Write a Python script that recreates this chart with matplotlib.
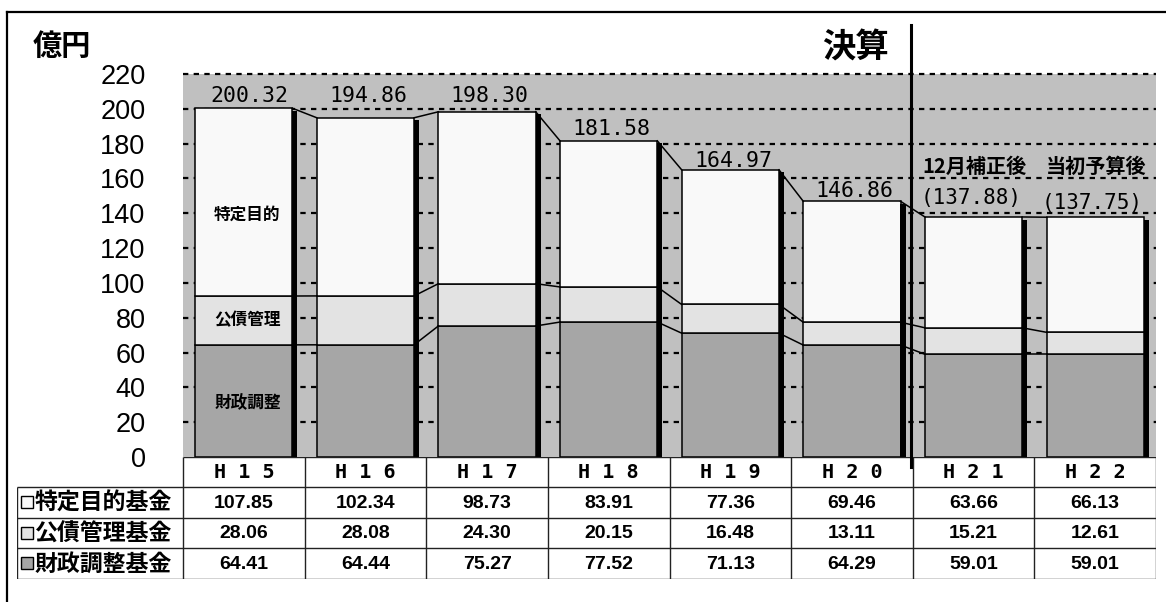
import matplotlib
matplotlib.use("Agg")
import matplotlib.pyplot as plt
from matplotlib.patches import Rectangle
from matplotlib.lines import Line2D
import numpy as np

# データ (億円)
years = ["H 1 5", "H 1 6", "H 1 7", "H 1 8", "H 1 9", "H 2 0", "H 2 1", "H 2 2"]
tokutei = [107.85, 102.34, 98.73, 83.91, 77.36, 69.46, 63.66, 66.13]
kosai = [28.06, 28.08, 24.30, 20.15, 16.48, 13.11, 15.21, 12.61]
zaisei = [64.41, 64.44, 75.27, 77.52, 71.13, 64.29, 59.01, 59.01]
totals = [200.32, 194.86, 198.30, 181.58, 164.97, 146.86, 137.88, 137.75]
budget_notes = ["12月補正後", "当初予算後"]
row_names = ["特定目的基金", "公債管理基金", "財政調整基金"]
yticks = list(range(0, 221, 20))

# ラベルの縦ずらし (pt)
label_lift = [4.3, 11.3, 7.0, 4.3, 2.0, 3.1, 9.0, 6.0]

c_top = "#f9f9f9"
c_mid = "#e3e3e3"
c_bot = "#a6a6a6"
c_bg = "#c0c0c0"

JP = "Noto Sans CJK JP"
MONO = "DejaVu Sans Mono"
SANS = "Liberation Sans"

W, H = 1166, 602
fig = plt.figure(figsize=(W / 100, H / 100), dpi=100)


def fx(px):
    return px / W


def fy(py):
    return 1 - py / H


# 外枠
fig.add_artist(Line2D([fx(7), fx(7)], [fy(12), 0], color="k", lw=1.6))
fig.add_artist(Line2D([fx(7), 1], [fy(12), fy(12)], color="k", lw=1.6))

ax_l, ax_r, ax_t, ax_b = 183, 1156, 74, 457
ax = fig.add_axes([fx(ax_l), fy(ax_b), fx(ax_r - ax_l), (ax_b - ax_t) / H])
ax.set_facecolor(c_bg)
ax.set_xlim(-0.5, 7.5)
ax.set_ylim(0, 220)
for s in ax.spines.values():
    s.set_visible(False)

x = np.arange(len(years))
bw = 0.8

# グリッド
ax.hlines(yticks[1:], -0.5, 7.5, colors="k", lw=1.6,
          linestyles=(0, (2.4, 2.4)), zorder=1, clip_on=False)

cum1 = np.array(zaisei)
cum2 = cum1 + np.array(kosai)
cum3 = cum2 + np.array(tokutei)

ax.bar(x, zaisei, bw, color=c_bot, edgecolor="k", lw=1.1, zorder=2)
ax.bar(x, kosai, bw, bottom=cum1, color=c_mid, edgecolor="k", lw=1.1, zorder=2)
ax.bar(x, tokutei, bw, bottom=cum2, color=c_top, edgecolor="k", lw=1.1, zorder=2)
# 影
ax.bar(x + bw / 2 + 0.02, np.array(totals) - 1.5, 0.042, color="k", lw=0, zorder=2)

# 系列線
for lvl in (cum1, cum2, cum3):
    for i in range(len(x) - 1):
        ax.plot([x[i] + bw / 2, x[i + 1] - bw / 2], [lvl[i], lvl[i + 1]],
                color="k", lw=1.1, zorder=3)

for i in range(6):
    ax.annotate(f"{totals[i]:.2f}", (x[i], totals[i]), xytext=(2 if i else 4, label_lift[i]),
                textcoords="offset points", ha="center", va="baseline",
                fontsize=15.5, family=MONO, zorder=4)

for k, i in enumerate([6, 7]):
    ax.annotate(f"({totals[i]:.2f})", (x[i], totals[i]), xytext=(-2, label_lift[i]),
                textcoords="offset points", ha="center", va="baseline",
                fontsize=15, family=MONO, zorder=4)
    ax.annotate(budget_notes[k], (x[i], totals[i]), xytext=(1, 32),
                textcoords="offset points", ha="center", va="baseline",
                fontsize=14.5, family=JP, weight="bold", zorder=4)

# 棒内ラベル
ax.text(x[0] + 0.03, 139, "特定目的", ha="center", va="center", fontsize=12,
        family=JP, weight="bold", zorder=4)
ax.text(x[0] + 0.03, 78.5, "公債管理", ha="center", va="center", fontsize=12,
        family=JP, weight="bold", zorder=4)
ax.text(x[0] + 0.03, 31, "財政調整", ha="center", va="center", fontsize=12,
        family=JP, weight="bold", zorder=4)

ax.set_xticks([])
ax.set_yticks(yticks)
ax.tick_params(axis="y", length=0, pad=27, labelsize=19.5)
for lab in ax.get_yticklabels():
    lab.set_family(SANS)

# 決算 区切り線
fig.add_artist(Line2D([fx(911), fx(911)], [fy(25), fy(467)], color="k", lw=2.2, zorder=5))
fig.text(fx(855), fy(48), "決算", ha="center", va="center", fontsize=24,
         family=JP, weight="bold")
fig.text(fx(62), fy(46), "億円", ha="center", va="center", fontsize=21,
         family=JP, weight="bold")

# データ表
tl, tr = 17, 1156
rows_y = [457, 487, 518, 548, 579]
tax = fig.add_axes([fx(tl), fy(rows_y[-1]), fx(tr - tl), (rows_y[-1] - rows_y[0]) / H])
tax.set_xlim(tl, tr)
tax.set_ylim(rows_y[-1], rows_y[0])
tax.axis("off")

colw = (ax_r - ax_l) / len(years)
col_x = [ax_l + i * colw for i in range(len(years) + 1)]
lc = "#222222"
tax.hlines(rows_y[0], ax_l, tr, colors=lc, lw=1.0)
tax.hlines(rows_y[1:], tl, tr, colors=lc, lw=1.0)
tax.vlines(tl, rows_y[1], rows_y[-1], colors=lc, lw=1.0)
tax.vlines(col_x, rows_y[0], rows_y[-1], colors=lc, lw=1.0)

for i, yr in enumerate(years):
    cx = col_x[i] + colw / 2
    tax.text(cx, (rows_y[0] + rows_y[1]) / 2 + 1, yr, ha="center", va="center",
             fontsize=14.5, family=MONO, weight="bold")

series = [tokutei, kosai, zaisei]
marks = [c_top, c_mid, c_bot]
for r in range(3):
    yc = (rows_y[r + 1] + rows_y[r + 2]) / 2
    tax.add_patch(Rectangle((21, yc - 6), 12, 12, facecolor=marks[r],
                            edgecolor="k", lw=1.0))
    tax.text(35, yc + 1, row_names[r], ha="left", va="center", fontsize=16.5,
             family=JP, weight="bold")
    for i, v in enumerate(series[r]):
        tax.text(col_x[i] + colw / 2, yc + 1, f"{v:.2f}", ha="center", va="center",
                 fontsize=14, family=SANS, weight="bold")

fig.savefig("out.png", dpi=100)
